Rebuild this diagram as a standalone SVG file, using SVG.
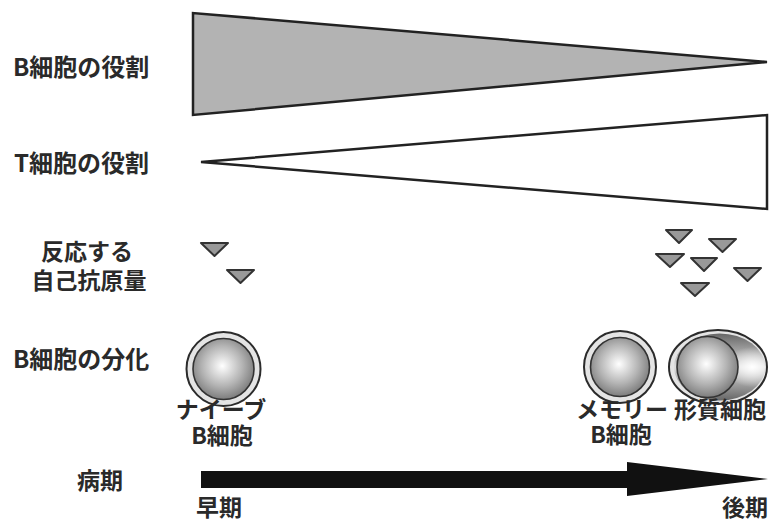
<svg xmlns="http://www.w3.org/2000/svg" width="769" height="523" viewBox="0 0 769 523">
  <style>
    .lbl { font-family: "Noto Sans CJK JP", "Liberation Sans", sans-serif; font-weight: 700; font-size: 23px; fill: #2a2a2a; }
    .big { font-size: 24px; }
    .mid { text-anchor: middle; }
    .end { text-anchor: end; }
    .wedge { stroke: #222; stroke-width: 2.5; stroke-linejoin: miter; }
    .ag { fill: #999; stroke: #333; stroke-width: 2; stroke-linejoin: round; }
    .rim { fill: #e4e4e4; stroke: #2b2b2b; stroke-width: 2; }
    .core { stroke: #333; stroke-width: 1.6; }
  </style>
  <defs>
    <radialGradient id="sphere" cx="0.48" cy="0.45" r="0.6">
      <stop offset="0" stop-color="#ffffff"/>
      <stop offset="0.55" stop-color="#b4b4b4"/>
      <stop offset="1" stop-color="#707070"/>
    </radialGradient>
    <linearGradient id="body" x1="0" y1="0" x2="0" y2="1">
      <stop offset="0" stop-color="#666"/>
      <stop offset="0.5" stop-color="#dcdcdc"/>
      <stop offset="1" stop-color="#666"/>
    </linearGradient>
    <radialGradient id="shine" cx="0.86" cy="0.5" r="0.3">
      <stop offset="0" stop-color="#ffffff" stop-opacity="1"/>
      <stop offset="1" stop-color="#ffffff" stop-opacity="0"/>
    </radialGradient>
  </defs>

  <rect width="769" height="523" fill="#ffffff"/>

  <!-- row labels -->
  <g id="row-labels" class="lbl">
    <text class="big" x="13" y="76">B細胞の役割</text>
    <text class="big" x="14" y="172">T細胞の役割</text>
    <text class="mid" y="260"><tspan x="87">反応する</tspan><tspan x="89" dy="29">自己抗原量</tspan></text>
    <text class="big" x="13" y="368">B細胞の分化</text>
    <text x="77" y="489">病期</text>
  </g>

  <!-- role wedges -->
  <g id="b-cell-role">
    <polygon class="wedge" fill="#b3b3b3" points="193,13 193,115 767,62"/>
  </g>
  <g id="t-cell-role">
    <polygon class="wedge" fill="#ffffff" points="201,162 767,115 767,209"/>
  </g>

  <!-- reacting autoantigens -->
  <g id="antigen-early">
    <polygon class="ag" points="201,243 228,243 214.5,256"/>
    <polygon class="ag" points="227,270 254,270 240.5,283"/>
  </g>
  <g id="antigen-late">
    <polygon class="ag" points="666,230 692,230 679,243"/>
    <polygon class="ag" points="709,239 736,239 722.5,252"/>
    <polygon class="ag" points="656,254 684,254 670,267"/>
    <polygon class="ag" points="691,258 717,258 704,271"/>
    <polygon class="ag" points="734,268 761,268 747.5,281"/>
    <polygon class="ag" points="681,283 709,283 695,296"/>
  </g>

  <!-- naive B cell -->
  <g id="naive-b-cell">
    <circle class="rim" cx="223.5" cy="369" r="37"/>
    <circle class="core" cx="223.5" cy="369" r="30.5" fill="url(#sphere)"/>
    <text class="lbl mid" y="418"><tspan x="221">ナイーブ</tspan><tspan x="222" dy="26">B細胞</tspan></text>
  </g>

  <!-- memory B cell -->
  <g id="memory-b-cell">
    <circle class="rim" cx="620" cy="367" r="36"/>
    <circle class="core" cx="620" cy="367" r="29.5" fill="url(#sphere)"/>
    <text class="lbl mid" y="418"><tspan x="622">メモリー</tspan><tspan x="621" dy="25">B細胞</tspan></text>
  </g>

  <!-- plasma cell -->
  <g id="plasma-cell">
    <ellipse class="rim" cx="718" cy="367" rx="49" ry="37"/>
    <ellipse cx="719.5" cy="367" rx="45.5" ry="33.5" fill="url(#body)"/>
    <ellipse cx="719.5" cy="367" rx="45.5" ry="33.5" fill="url(#shine)"/>
    <circle class="core" cx="707.5" cy="367" r="30.5" fill="url(#sphere)"/>
    <text class="lbl mid" x="720" y="418">形質細胞</text>
  </g>

  <!-- disease-stage timeline -->
  <g id="connectors">
    <polygon id="stage-arrow" fill="#111" points="201,471 627,471 627,462 768,479 627,496 627,488 201,488"/>
  </g>
  <g id="stage-labels" class="lbl">
    <text x="196" y="516">早期</text>
    <text class="end" x="768" y="516">後期</text>
  </g>
</svg>
